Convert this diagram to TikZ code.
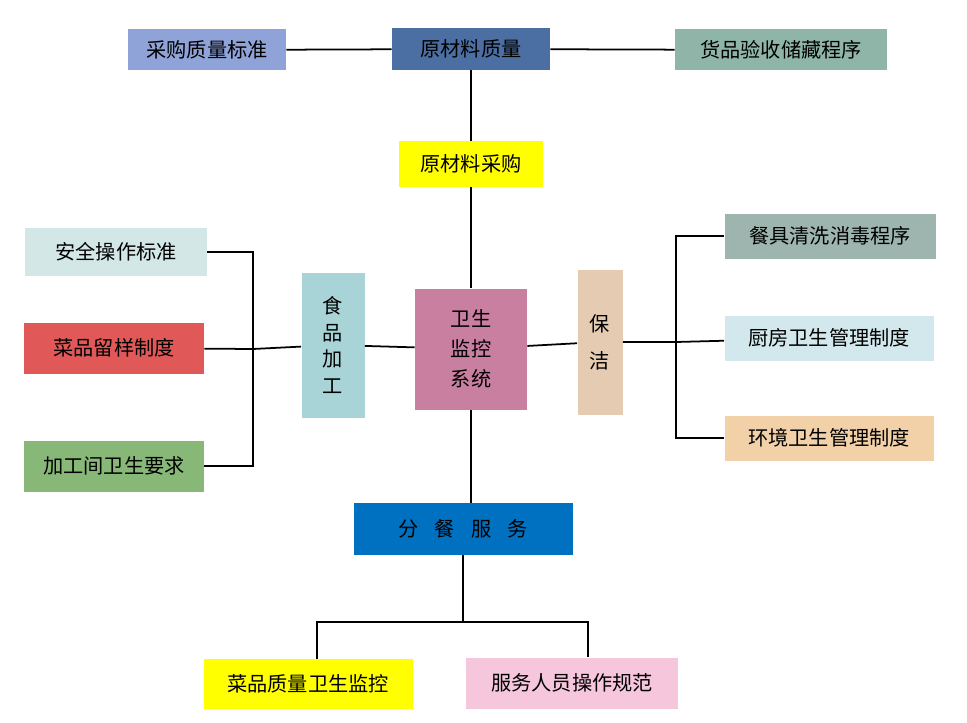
\documentclass[tikz,border=0pt]{standalone}
\usepackage{fontspec}
\newfontfamily\cjk{Noto Sans CJK SC}
\usetikzlibrary{positioning}
\definecolor{cgbuy}{HTML}{8FA3D8}
\definecolor{cgraw}{HTML}{4C6FA3}
\definecolor{cgstore}{HTML}{8FB5A8}
\definecolor{cgyel}{HTML}{FFFF00}
\definecolor{cgsafe}{HTML}{D3E8E6}
\definecolor{cgred}{HTML}{E05858}
\definecolor{cggreen}{HTML}{88B878}
\definecolor{cgfood}{HTML}{A8D4D8}
\definecolor{cgcore}{HTML}{C97FA0}
\definecolor{cgclean}{HTML}{E5CBB2}
\definecolor{cgdish}{HTML}{9DB5AE}
\definecolor{cgkit}{HTML}{D2E8EC}
\definecolor{cgenv}{HTML}{F2D0A8}
\definecolor{cgserve}{HTML}{0070C0}
\definecolor{cgpink}{HTML}{F5C6DC}
\tikzset{
  box/.style={inner sep=0pt, font=\cjk\fontsize{11.5}{15}\selectfont},
  link/.style={line width=1pt}
}
\begin{document}
\begin{tikzpicture}[x=0.02cm,y=-0.02cm]
  \useasboundingbox (0,0) rectangle (967,723);
  % top row
  \node[box,fill=cgbuy,minimum width=158*0.02cm,minimum height=41*0.02cm] (buy) at (207,50) {采购质量标准};
  \node[box,fill=cgraw,minimum width=158*0.02cm,minimum height=42*0.02cm] (raw) at (471,49) {原材料质量};
  \node[box,fill=cgstore,minimum width=212*0.02cm,minimum height=41*0.02cm] (store) at (781,50) {货品验收储藏程序};
  \node[box,fill=cgyel,minimum width=144*0.02cm,minimum height=46*0.02cm] (purch) at (471,164) {原材料采购};
  % middle row
  \node[box,fill=cgsafe,minimum width=182*0.02cm,minimum height=48*0.02cm] (safe) at (116,252) {安全操作标准};
  \node[box,fill=cgred,minimum width=180*0.02cm,minimum height=51*0.02cm] (sample) at (114,348) {菜品留样制度};
  \node[box,fill=cggreen,minimum width=180*0.02cm,minimum height=51*0.02cm] (room) at (114,466) {加工间卫生要求};
  \node[box,fill=cgfood,minimum width=63*0.02cm,minimum height=145*0.02cm,align=center] (food) at (333,345) {食\\品\\加\\工};
  \node[box,fill=cgcore,minimum width=112*0.02cm,minimum height=121*0.02cm,align=center] (core) at (471,349) {卫生\\[2pt]监控\\[2pt]系统};
  \node[box,fill=cgclean,minimum width=45*0.02cm,minimum height=145*0.02cm,align=center] (clean) at (600,342) {保\\[6pt]洁};
  \node[box,fill=cgdish,minimum width=211*0.02cm,minimum height=45*0.02cm] (dish) at (830,236) {餐具清洗消毒程序};
  \node[box,fill=cgkit,minimum width=209*0.02cm,minimum height=45*0.02cm] (kit) at (829,338) {厨房卫生管理制度};
  \node[box,fill=cgenv,minimum width=209*0.02cm,minimum height=45*0.02cm] (env) at (829,438) {环境卫生管理制度};
  % bottom
  \node[box,fill=cgserve,minimum width=219*0.02cm,minimum height=52*0.02cm] (serve) at (463,529) {分\hspace{0.8em}餐\hspace{0.8em}服\hspace{0.8em}务};
  \node[box,fill=cgyel,minimum width=209*0.02cm,minimum height=50*0.02cm] (dishq) at (308,684) {菜品质量卫生监控};
  \node[box,fill=cgpink,minimum width=212*0.02cm,minimum height=51*0.02cm] (staff) at (572,683) {服务人员操作规范};
  \coordinate (lb) at (253,349);
  \coordinate (rb) at (676,342);
  \coordinate (bj) at (471,622);
  % connectors
  \draw[link] (buy) -- (raw);
  \draw[link] (raw) -- (store);
  \draw[link] (raw) -- (purch);
  \draw[link] (purch) -- (core);
  \draw[link] (core) -- (food);
  \draw[link] (core) -- (clean);
  \draw[link] (core.south) -- (core.south |- serve.north);
  \draw[link] (safe.east) -| (lb) |- (room.east);
  \draw[link] (sample) -- (lb) -- (food);
  \draw[link] (dish.west) -| (rb) |- (env.west);
  \draw[link] (clean) -- (rb) -- (kit);
  \draw[link] (serve.south) -- (serve.south |- bj);
  \draw[link] (dishq.north -| 317,0) |- (bj) -| (staff.north -| 588,0);
\end{tikzpicture}
\end{document}
